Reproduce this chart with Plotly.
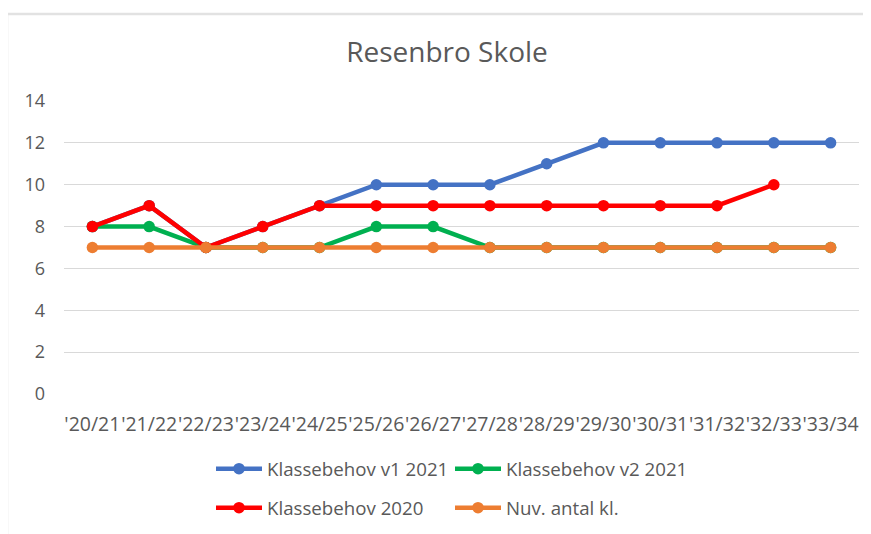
import plotly.graph_objects as go

categories = ["'20/21", "'21/22", "'22/23", "'23/24", "'24/25", "'25/26", "'26/27",
              "'27/28", "'28/29", "'29/30", "'30/31", "'31/32", "'32/33", "'33/34"]
v1_2021 = [8, 9, 7, 8, 9, 10, 10, 10, 11, 12, 12, 12, 12, 12]
v2_2021 = [8, 8, 7, 7, 7, 8, 8, 7, 7, 7, 7, 7, 7, 7]
behov_2020 = [8, 9, 7, 8, 9, 9, 9, 9, 9, 9, 9, 9, 10, None]
nuv_antal = [7, 7, 7, 7, 7, 7, 7, 7, 7, 7, 7, 7, 7, 7]

series = [
    ("Klassebehov v1 2021", v1_2021, "#4472C4", "legend"),
    ("Klassebehov v2 2021", v2_2021, "#00B050", "legend"),
    ("Klassebehov 2020", behov_2020, "#FF0000", "legend2"),
    ("Nuv. antal kl.", nuv_antal, "#ED7D31", "legend2"),
]

FONT = "Open Sans"
GRAY = "#595959"
OFF = 8  # page body margin offset

fig = go.Figure()
for name, vals, color, lg in series:
    fig.add_trace(go.Scatter(
        x=categories, y=vals, name=name, mode="lines+markers",
        line=dict(color=color, width=4.5),
        marker=dict(color=color, size=11.5),
        legend=lg,
    ))

W, H = 871, 534
# target screen coordinates of the plot area
sx0, sx1, sy0, sy1 = 64, 859, 101, 394
ml = sx0 - OFF
mr = W - (sx1 - OFF)
mt = sy0 - OFF
mb = H - (sy1 - OFF)
pw = W - ml - mr
ph = H - mt - mb

def px_x(x):
    return (x - OFF - ml) / pw

def px_y(y):
    return (H - mb - (y - OFF)) / ph

leg_common = dict(
    orientation="h", xanchor="left", yanchor="middle",
    font=dict(family=FONT, size=18.7, color=GRAY),
    itemwidth=46, entrywidth=178, entrywidthmode="pixels",
    bgcolor="rgba(0,0,0,0)", traceorder="normal",
)

fig.update_layout(
    width=W, height=H,
    margin=dict(l=ml, r=mr, t=mt, b=mb),
    paper_bgcolor="white", plot_bgcolor="white",
    title=dict(text="Resenbro Skole", x=px_x(447), xref="paper", xanchor="center",
               y=1 - (52 - OFF) / H, yanchor="middle",
               font=dict(family=FONT, size=28, color=GRAY)),
    font=dict(family=FONT, color=GRAY),
    showlegend=True,
    legend=dict(x=px_x(211), y=px_y(469), **leg_common),
    legend2=dict(x=px_x(211), y=px_y(508), **leg_common),
    xaxis=dict(type="category", range=[-0.5, 13.5], tickangle=0,
               showgrid=False, showline=False, zeroline=False, ticks="",
               ticklabelstandoff=16,
               tickfont=dict(family=FONT, size=19.5, color=GRAY)),
    yaxis=dict(range=[0, 14], dtick=2, tick0=0, showgrid=True,
               gridcolor="#D9D9D9", gridwidth=1, zeroline=False,
               showline=False, ticks="", ticklabelstandoff=18,
               tickfont=dict(family=FONT, size=18, color=GRAY)),
    shapes=[
        dict(type="path", xref="paper", yref="paper",
             path=f"M 1.2 {px_y(14)} L {px_x(7)} {px_y(14)} L {px_x(7)} -0.6",
             line=dict(color="#E2E2E2", width=2.5)),
    ],
)

fig.write_html("out.html")
